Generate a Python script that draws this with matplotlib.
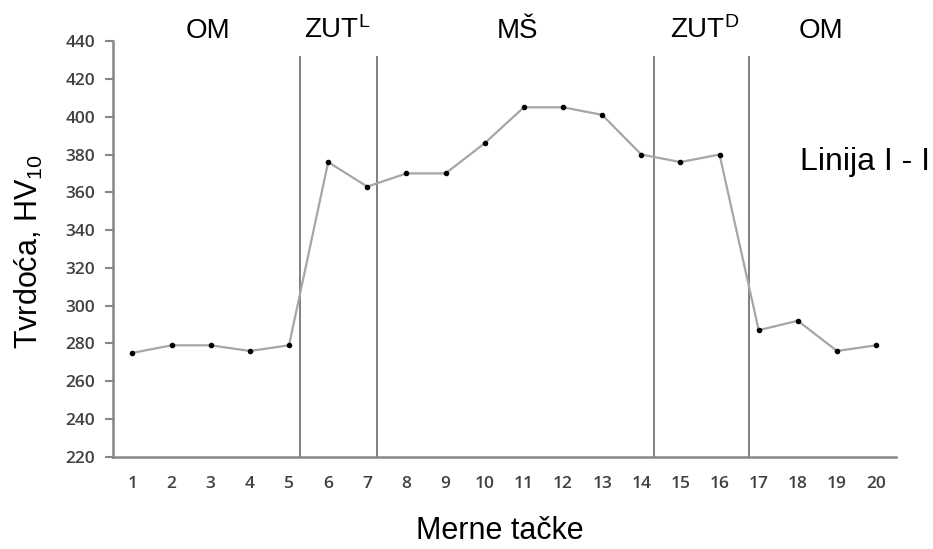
import matplotlib
matplotlib.use('Agg')
import matplotlib.pyplot as plt
import matplotlib.transforms as mtransforms

plt.rcParams['font.family'] = ['Liberation Sans', 'DejaVu Sans']
plt.rcParams['mathtext.fontset'] = 'custom'
plt.rcParams['mathtext.rm'] = 'Liberation Sans'
plt.rcParams['mathtext.it'] = 'Liberation Sans'

# merne tacke i tvrdoca
points = list(range(1, 21))
hardness = [275, 279, 279, 276, 279, 376, 363, 370, 370, 386,
            405, 405, 401, 380, 376, 380, 287, 292, 276, 279]
# granice zona
zone_bounds = [5.29, 7.26, 14.33, 16.76]
zone_names = ['OM', r'ZUT$^{\mathrm{L}}$', 'MŠ', r'ZUT$^{\mathrm{D}}$', 'OM']
zone_label_x = [2.94, 6.23, 10.83, 15.63, 18.59]
yticks = list(range(220, 441, 20))

fig = plt.figure(figsize=(9.33, 5.49), dpi=100)
ax = fig.add_axes([0.121, 0.168, 0.839, 0.757])

ax.plot(points, hardness, color='#a6a6a6', lw=1.6, zorder=2)
ax.plot(points, hardness, 'o', color='black', ms=3, zorder=3)

for xb in zone_bounds:
    ax.plot([xb, xb], [220, 431.5], color='#7f7f7f', lw=1.4, zorder=1)

ax.set_xlim(0.5, 20.5)
ax.set_ylim(220, 440)
ax.set_xticks(points)
ax.set_yticks(yticks)

for s in ['top', 'right']:
    ax.spines[s].set_visible(False)
for s in ['left', 'bottom']:
    ax.spines[s].set_color('#868686')
    ax.spines[s].set_linewidth(1.8)

ax.tick_params(axis='y', length=6, width=1.5, color='#868686', pad=7,
               labelsize=12.5, labelcolor='#404040')
ax.tick_params(axis='x', length=0, pad=14, labelsize=12.5, labelcolor='#404040')
for lab in ax.get_xticklabels() + ax.get_yticklabels():
    lab.set_family(['Open Sans', 'DejaVu Sans'])
    lab.set_fontweight('semibold')

# nazivi zona iznad grafika
trans = mtransforms.blended_transform_factory(ax.transData, fig.transFigure)
for name, xl in zip(zone_names, zone_label_x):
    ax.text(xl, 0.931, name, ha='center', va='baseline', fontsize=20, transform=trans)

fig.text(800 / 933, 1 - 170 / 549, 'Linija I - I', fontsize=23, ha='left', va='baseline')

fig.text(0.536, 1 - 539 / 549, 'Merne tačke', fontsize=22, ha='center', va='baseline')
fig.text(0.031, 0.541, r'Tvrdoća, HV$_{10}$', fontsize=22, rotation=90,
         ha='center', va='center')

fig.savefig('out.png', dpi=100)
